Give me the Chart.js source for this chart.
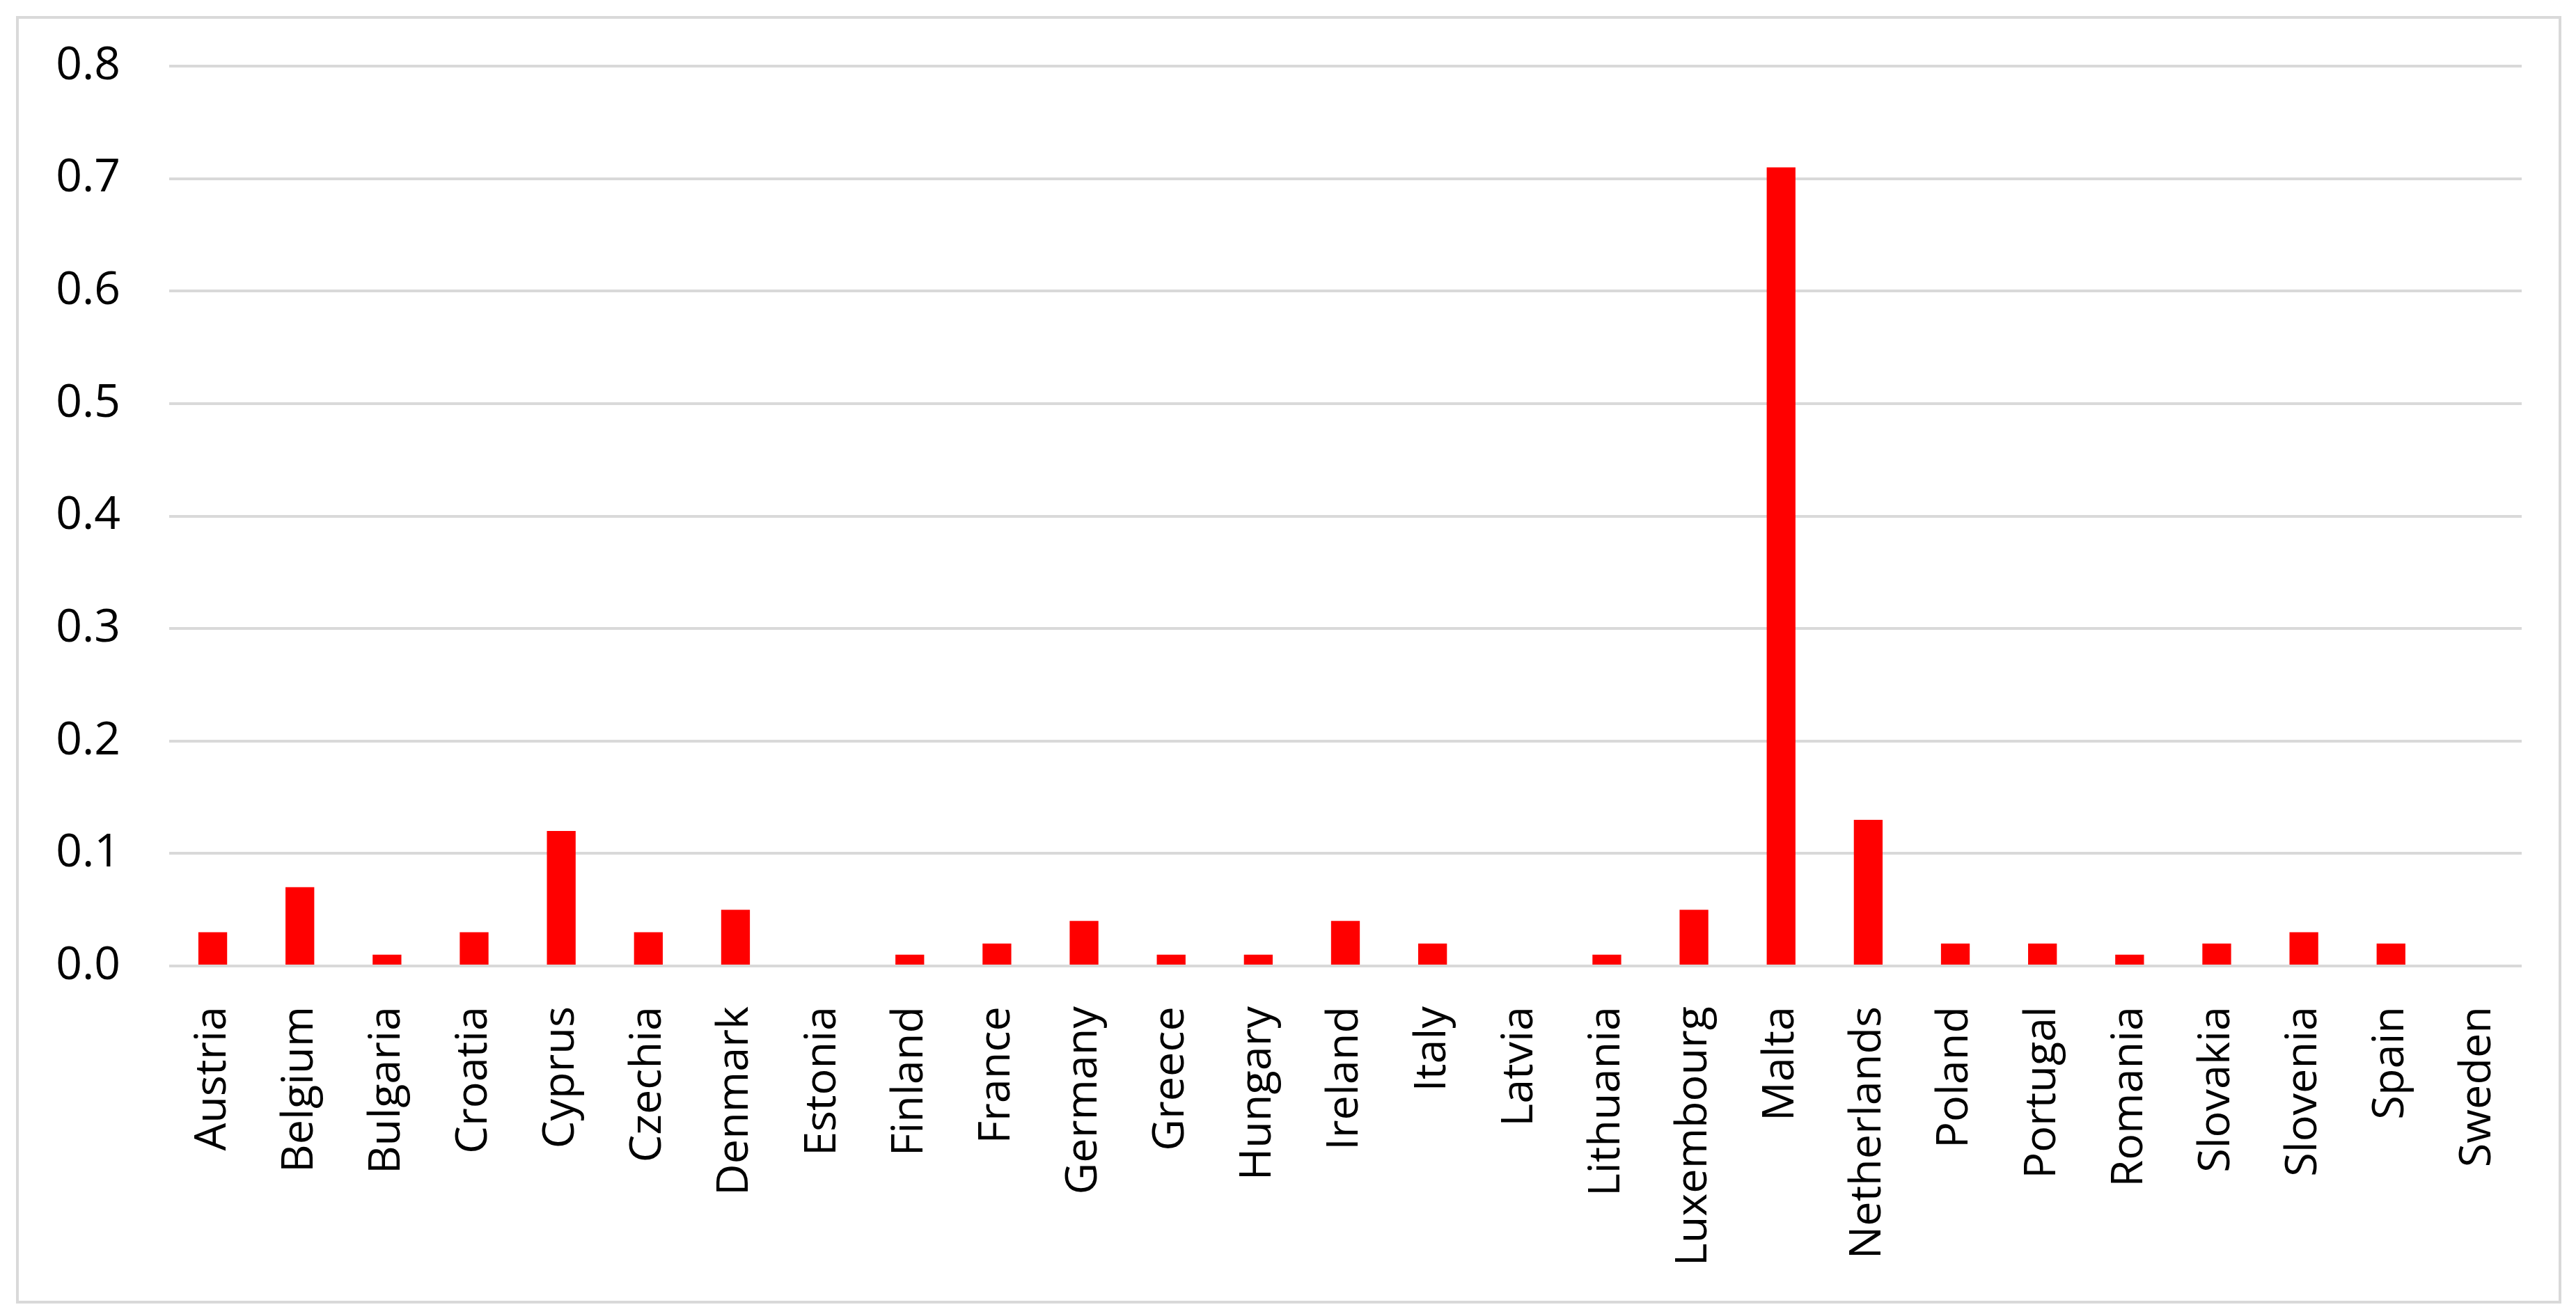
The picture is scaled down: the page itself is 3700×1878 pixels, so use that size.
<!DOCTYPE html>
<html>
<head>
<meta charset="utf-8">
<script src="https://cdn.jsdelivr.net/npm/chart.js@4/dist/chart.umd.min.js"></script>
<style>
  html, body { margin: 0; padding: 0; background: #fff; }
  #wrap { position: relative; width: 3700px; height: 1878px; }
</style>
</head>
<body>
<div id="wrap"><canvas id="chart" width="3700" height="1878"></canvas></div>
<script>
const COUNTRIES = [
  "Austria", "Belgium", "Bulgaria", "Croatia", "Cyprus", "Czechia", "Denmark",
  "Estonia", "Finland", "France", "Germany", "Greece", "Hungary", "Ireland",
  "Italy", "Latvia", "Lithuania", "Luxembourg", "Malta", "Netherlands",
  "Poland", "Portugal", "Romania", "Slovakia", "Slovenia", "Spain", "Sweden"
];
const VALUES = [
  0.03, 0.07, 0.01, 0.03, 0.12, 0.03, 0.05,
  0, 0.01, 0.02, 0.04, 0.01, 0.01, 0.04,
  0.02, 0, 0.01, 0.05, 0.71, 0.13,
  0.02, 0.02, 0.01, 0.02, 0.03, 0.02, 0
];
const Y_MIN = 0;
const Y_MAX = 0.8;
const Y_STEP = 0.1;

const FONT = "'Open Sans', 'Noto Sans', sans-serif";
const GRID = "#d9d9d9";

// white page with the thin grey frame round the chart
const framePlugin = {
  id: "frame",
  beforeDraw(chart) {
    const c = chart.ctx;
    c.save();
    c.fillStyle = "#fff";
    c.fillRect(0, 0, chart.width, chart.height);
    c.strokeStyle = GRID;
    c.lineWidth = 4;
    c.strokeRect(25, 25, 3652, 1846);
    c.restore();
  }
};

new Chart(document.getElementById("chart"), {
  type: "bar",
  data: {
    labels: COUNTRIES,
    datasets: [{
      data: VALUES,
      backgroundColor: "#ff0000",
      borderWidth: 0,
      categoryPercentage: 1,
      barPercentage: 0.33,
    }],
  },
  options: {
    responsive: false,
    animation: false,
    devicePixelRatio: 1,
    layout: { padding: { left: 0, top: 95, right: 78, bottom: 0 } },
    plugins: { legend: { display: false }, tooltip: { enabled: false } },
    scales: {
      x: {
        grid: { display: false },
        border: { display: false },
        ticks: {
          autoSkip: false,
          maxRotation: 90,
          minRotation: 90,
          padding: 50,
          color: "#000",
          font: { family: FONT, size: 63 },
        },
        afterFit(scale) { scale.height = 490; },
      },
      y: {
        min: Y_MIN,
        max: Y_MAX,
        border: { display: false },
        grid: { color: GRID, lineWidth: 4, drawTicks: false },
        ticks: {
          stepSize: Y_STEP,
          padding: 70,
          color: "#000",
          font: { family: FONT, size: 66 },
          callback: (v) => Number(v).toFixed(1),
        },
        afterFit(scale) {
          // fixed axis width; drop the label overhang so the top padding rules
          scale.width = 243;
          scale.paddingTop = 0;
          scale.paddingBottom = 0;
        },
      },
    },
  },
  plugins: [framePlugin],
});
</script>
</body>
</html>
